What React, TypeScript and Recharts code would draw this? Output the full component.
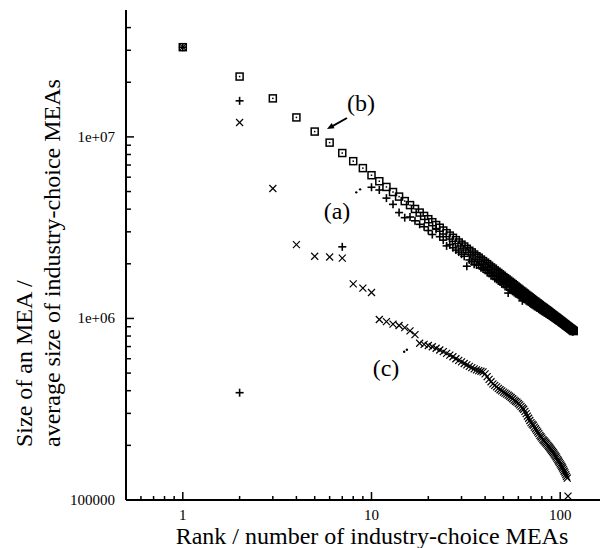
import React from 'react';
import { ScatterChart, Scatter, XAxis, YAxis } from 'recharts';

// Series (b): squares, ranks 1..118
const valuesB = [
  3.12e7, 2.15e7, 1.63e7, 1.28e7, 1.07e7, 9.3e6, 8.15e6, 7.35e6, 6.73e6, 6.15e6,
  5.7e6, 5.3e6, 4.97e6, 4.69e6, 4.43e6, 4.21e6, 4.01e6, 3.83e6, 3.67e6, 3.52e6,
  3.39e6, 3.27e6, 3.16e6, 3.05e6, 2.95e6, 2.86e6, 2.78e6, 2.7e6, 2.62e6, 2.55e6,
  2.49e6, 2.42e6, 2.36e6, 2.31e6, 2.25e6, 2.2e6, 2.16e6, 2.11e6, 2.07e6, 2.03e6,
  1.99e6, 1.95e6, 1.91e6, 1.88e6, 1.84e6, 1.81e6, 1.78e6, 1.75e6, 1.72e6, 1.69e6,
  1.665e6, 1.64e6, 1.615e6, 1.59e6, 1.57e6, 1.545e6, 1.525e6, 1.5e6, 1.48e6, 1.46e6,
  1.44e6, 1.42e6, 1.405e6, 1.385e6, 1.37e6, 1.35e6, 1.335e6, 1.32e6, 1.305e6, 1.29e6,
  1.275e6, 1.26e6, 1.245e6, 1.235e6, 1.22e6, 1.21e6, 1.195e6, 1.185e6, 1.17e6, 1.16e6,
  1.15e6, 1.14e6, 1.128e6, 1.118e6, 1.108e6, 1.098e6, 1.088e6, 1.078e6, 1.068e6, 1.058e6,
  1.049e6, 1.04e6, 1.031e6, 1.022e6, 1.014e6, 1.006e6, 9.98e5, 9.9e5, 9.81e5, 9.73e5,
  9.66e5, 9.58e5, 9.5e5, 9.43e5, 9.35e5, 9.28e5, 9.21e5, 9.14e5, 9.08e5, 9.01e5,
  8.95e5, 8.88e5, 8.82e5, 8.76e5, 8.7e5, 8.64e5, 8.58e5, 8.52e5,
];

// Series (a): pluses. Isolated early points, then ranks 10..117
const aEarlyRanks = [1, 2, 2, 7];
const aEarlyValues = [3.12e7, 1.58e7, 3.9e5, 2.48e6];
const aStartRank = 10;
const valuesA = [
  5.28e6, 5.1e6, 4.6e6, 4.25e6, 3.83e6, 3.59e6, 3.62e6, 3.45e6, 3.3e6, 3.2e6, 3.05e6,
  2.9e6, 3.1e6, 2.82e6, 2.7e6, 2.51e6, 2.55e6, 2.45e6, 2.38e6, 2.32e6, 2.26e6,
  2.2e6, 1.94e6, 2.1e6, 2.05e6, 1.99e6, 1.97e6, 1.96e6, 1.9e6, 1.87e6, 1.84e6,
  1.79e6, 1.77e6, 1.72e6, 1.71e6, 1.66e6, 1.64e6, 1.61e6, 1.59e6, 1.55e6, 1.54e6,
  1.5e6, 1.49e6, 1.38e6, 1.45e6, 1.43e6, 1.41e6, 1.39e6, 1.37e6, 1.36e6, 1.34e6,
  1.33e6, 1.31e6, 1.25e6, 1.28e6, 1.27e6, 1.25e6, 1.24e6, 1.23e6, 1.215e6, 1.2e6,
  1.19e6, 1.18e6, 1.165e6, 1.16e6, 1.145e6, 1.14e6, 1.125e6, 1.115e6, 1.105e6, 1.095e6,
  1.088e6, 1.08e6, 1.07e6, 1.062e6, 1.054e6, 1.046e6, 1.038e6, 1.03e6, 1.021e6, 1.013e6,
  1.005e6, 9.98e5, 9.9e5, 9.82e5, 9.75e5, 9.68e5, 9.61e5, 9.54e5, 9.47e5, 9.4e5,
  9.34e5, 9.27e5, 9.21e5, 9.15e5, 9.08e5, 9.02e5, 8.96e5, 8.9e5, 8.85e5, 8.79e5,
  8.74e5, 8.68e5, 8.63e5, 8.58e5, 8.53e5, 8.48e5, 8.45e5,
];

// Series (c): crosses, ranks 1..110
const valuesC = [
  3.12e7, 1.2e7, 5.2e6, 2.55e6, 2.2e6, 2.18e6, 2.15e6, 1.55e6, 1.47e6, 1.39e6,
  9.87e5, 9.6e5, 9.3e5, 9.15e5, 8.9e5, 8.55e5, 8.15e5, 7.3e5, 7.2e5, 7.1e5,
  6.98e5, 6.85e5, 6.7e5, 6.56e5, 6.42e5, 6.28e5, 6.15e5, 6.0e5, 5.88e5, 5.76e5,
  5.65e5, 5.55e5, 5.45e5, 5.36e5, 5.28e5, 5.21e5, 5.16e5, 5.12e5, 5.08e5, 4.95e5,
  4.78e5, 4.62e5, 4.48e5, 4.36e5, 4.28e5, 4.2e5, 4.12e5, 4.05e5, 3.99e5, 3.93e5,
  3.88e5, 3.83e5, 3.78e5, 3.73e5, 3.67e5, 3.61e5, 3.55e5, 3.5e5, 3.46e5, 3.4e5,
  3.34e5, 3.28e5, 3.21e5, 3.16e5, 3.08e5, 2.99e5, 2.9e5, 2.82e5, 2.74e5, 2.67e5,
  2.62e5, 2.58e5, 2.52e5, 2.47e5, 2.42e5, 2.37e5, 2.32e5, 2.27e5, 2.23e5, 2.19e5,
  2.15e5, 2.12e5, 2.09e5, 2.06e5, 2.03e5, 2.0e5, 1.97e5, 1.94e5, 1.91e5, 1.88e5,
  1.85e5, 1.82e5, 1.79e5, 1.76e5, 1.73e5, 1.7e5, 1.67e5, 1.64e5, 1.61e5, 1.58e5,
  1.555e5, 1.53e5, 1.5e5, 1.47e5, 1.44e5, 1.41e5, 1.38e5, 1.35e5, 1.32e5, 1.05e5,
];

// Small dots
const dotRanks = [8.3, 8.7, 14.9, 15.4];
const dotValues = [4.95e6, 5.14e6, 6.56e5, 6.72e5];

const xTicks = [0.6, 0.7, 0.8, 0.9, 1, 2, 3, 4, 5, 6, 7, 8, 9, 10, 20, 30, 40, 50, 60, 70, 80, 90, 100];
const xTickLabels: Record<number, string> = { 1: '1', 10: '10', 100: '100' };
const yTicks = [
  1e5, 2e5, 3e5, 4e5, 5e5, 6e5, 7e5, 8e5, 9e5,
  1e6, 2e6, 3e6, 4e6, 5e6, 6e6, 7e6, 8e6, 9e6,
  1e7, 2e7, 3e7, 4e7,
];
const yTickLabels: Record<number, string> = { 100000: '100000', 1000000: '1e+06', 10000000: '1e+07' };

const xTitle = 'Rank / number of industry-choice MEAs';
const yTitle1 = 'Size of an MEA /';
const yTitle2 = 'average size of industry-choice MEAs';

const W = 620;
const H = 540;
const PLOT_LEFT = 118;
const PLOT_TOP = 2;
const PLOT_BOTTOM = 492;
const FONT = 'Liberation Serif, Times New Roman, DejaVu Serif, serif';
const serif = { fontFamily: FONT };

const dataB = valuesB.map((v, i) => ({ x: i + 1, y: v }));
const dataA = [
  ...aEarlyRanks.map((r, i) => ({ x: r, y: aEarlyValues[i] })),
  ...valuesA.map((v, i) => ({ x: aStartRank + i, y: v })),
];
const dataC = valuesC.map((v, i) => ({ x: i + 1, y: v }));
const dataD = dotRanks.map((r, i) => ({ x: r, y: dotValues[i] }));

const SquareShape = (p: any) => {
  const { cx, cy } = p;
  if (cx == null || cy == null) return null;
  return (
    <g>
      <rect x={cx - 3.5} y={cy - 3.5} width={7} height={7} fill="none" stroke="#000" strokeWidth={1.5} />
      <rect x={cx - 0.75} y={cy - 0.75} width={1.5} height={1.5} fill="#000" />
    </g>
  );
};
const PlusShape = (p: any) => {
  const { cx, cy } = p;
  if (cx == null || cy == null) return null;
  return (
    <g stroke="#000" strokeWidth={1.6}>
      <line x1={cx - 4} x2={cx + 4} y1={cy} y2={cy} />
      <line x1={cx} x2={cx} y1={cy - 4} y2={cy + 4} />
    </g>
  );
};
const CrossShape = (p: any) => {
  const { cx, cy } = p;
  if (cx == null || cy == null) return null;
  return (
    <g stroke="#000" strokeWidth={1.2}>
      <line x1={cx - 3.5} x2={cx + 3.5} y1={cy - 3.5} y2={cy + 3.5} />
      <line x1={cx - 3.5} x2={cx + 3.5} y1={cy + 3.5} y2={cy - 3.5} />
    </g>
  );
};
const DotShape = (p: any) => {
  const { cx, cy } = p;
  if (cx == null || cy == null) return null;
  return <circle cx={cx} cy={cy} r={1.2} fill="#000" />;
};

const BottomTick = (p: any) => {
  const { x, payload } = p;
  const v = payload.value;
  const label = xTickLabels[v];
  const major = label !== undefined;
  return (
    <g>
      <line x1={x} x2={x} y1={PLOT_BOTTOM} y2={PLOT_BOTTOM - (major ? 8 : 4)} stroke="#000" strokeWidth={1.5} />
      {major && (
        <text x={x} y={PLOT_BOTTOM + 20} textAnchor="middle" style={serif} fontSize={15} fill="#000">
          {label}
        </text>
      )}
    </g>
  );
};
const TopTick = (p: any) => {
  const { x, payload } = p;
  const major = xTickLabels[payload.value] !== undefined;
  return (
    <line x1={x} x2={x} y1={PLOT_TOP} y2={PLOT_TOP + (major ? 8 : 4)} stroke="#000" strokeWidth={1.5} />
  );
};
const LeftTick = (p: any) => {
  const { y, payload } = p;
  const v = payload.value;
  const label = yTickLabels[v];
  const major = label !== undefined;
  return (
    <g>
      <line x1={PLOT_LEFT} x2={PLOT_LEFT + (major ? 8 : 5)} y1={y} y2={y} stroke="#000" strokeWidth={1.5} />
      {major && (
        <text x={PLOT_LEFT - 11} y={y + 5} textAnchor="end" style={serif} fontSize={15} fill="#000">
          {label}
        </text>
      )}
    </g>
  );
};

export default function App() {
  return (
    <div style={{ position: 'relative', width: 600, height: H, overflow: 'hidden' }}>
      <ScatterChart width={W} height={H} margin={{ top: PLOT_TOP, right: 11, bottom: 0, left: 0 }}>
        <XAxis
          xAxisId={0}
          dataKey="x"
          type="number"
          scale="log"
          domain={[0.5, 200]}
          allowDataOverflow
          ticks={xTicks}
          interval={0}
          height={48}
          tickLine={false}
          tick={<BottomTick />}
          axisLine={{ stroke: '#000', strokeWidth: 2 }}
        />
        <XAxis
          xAxisId="top"
          orientation="top"
          dataKey="x"
          type="number"
          scale="log"
          domain={[0.5, 200]}
          allowDataOverflow
          ticks={xTicks}
          interval={0}
          height={0}
          tickLine={false}
          tick={<TopTick />}
          axisLine={{ stroke: '#000', strokeWidth: 2 }}
        />
        <YAxis
          dataKey="y"
          type="number"
          scale="log"
          domain={[1e5, 5e7]}
          allowDataOverflow
          ticks={yTicks}
          interval={0}
          width={PLOT_LEFT}
          tickLine={false}
          tick={<LeftTick />}
          axisLine={{ stroke: '#000', strokeWidth: 2 }}
        />
        <Scatter xAxisId="top" data={dataD} shape={() => null} isAnimationActive={false} />
        <Scatter data={dataC} shape={CrossShape} isAnimationActive={false} />
        <Scatter data={dataA} shape={PlusShape} isAnimationActive={false} />
        <Scatter data={dataB} shape={SquareShape} isAnimationActive={false} />
        <Scatter data={dataD} shape={DotShape} isAnimationActive={false} />
      </ScatterChart>
      <svg
        width={600}
        height={H}
        style={{ position: 'absolute', left: 0, top: 0, pointerEvents: 'none', fontFamily: FONT }}
      >
        <text x={364} y={536} textAnchor="middle" fontSize={24} fill="#000" style={serif}>{xTitle}</text>
        <text x={24} y={439} transform="rotate(-90, 24, 439)" textAnchor="start" fontSize={24} fill="#000" style={serif}>{yTitle1}</text>
        <text x={52} y={439} transform="rotate(-90, 52, 439)" textAnchor="start" fontSize={24} fill="#000" style={serif}>{yTitle2}</text>
        <text x={353} y={103} textAnchor="middle" fontSize={24} fill="#000" style={serif}>(b)</text>
        <line x1={339} y1={110} x2={324} y2={118.3} stroke="#000" strokeWidth={2} />
        <polygon points="319,121 326.5,120.2 323.7,115" fill="#000" />
        <text x={329} y={211} textAnchor="middle" fontSize={24} fill="#000" style={serif}>(a)</text>
        <text x={378} y={368} textAnchor="middle" fontSize={24} fill="#000" style={serif}>(c)</text>
      </svg>
    </div>
  );
}
